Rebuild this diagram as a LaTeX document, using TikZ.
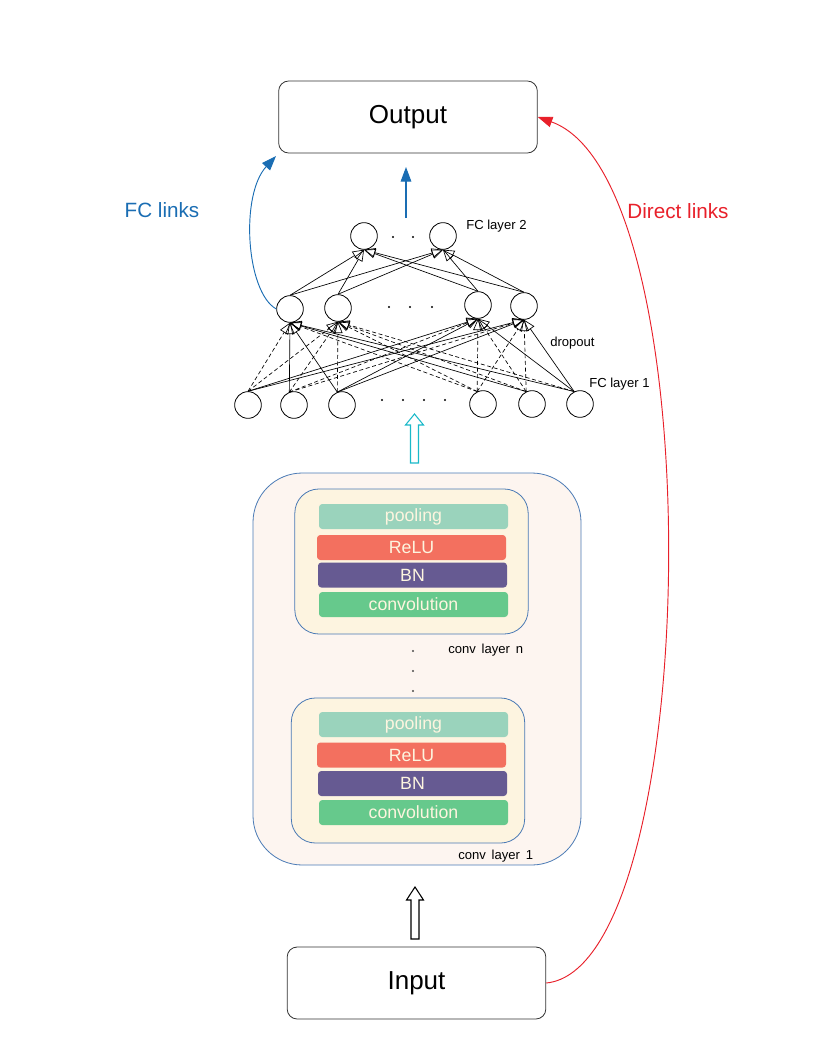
\documentclass[tikz,border=0pt]{standalone}
\usepackage{fontspec}
\setmainfont{Liberation Sans}
\usetikzlibrary{arrows.meta}
\definecolor{linkblue}{HTML}{1A6DB3}
\definecolor{linkred}{HTML}{E8202A}
\definecolor{arrcyan}{HTML}{1AB9C9}
\definecolor{convborder}{HTML}{4A7AB5}
\definecolor{convfill}{HTML}{FDF5F0}
\definecolor{layerfill}{HTML}{FDF4E0}
\definecolor{poolc}{HTML}{9AD3BC}
\definecolor{reluc}{HTML}{F3705F}
\definecolor{bnc}{HTML}{665A92}
\definecolor{convc}{HTML}{66C98C}
\definecolor{bartext}{HTML}{FDF5DF}
\begin{document}
\begin{tikzpicture}[x=0.75pt,y=-0.75pt,
  endbox/.style={draw=black!80, fill=white, rounded corners=7.5pt, minimum width=194pt, minimum height=54pt, font=\fontsize{19.5}{22}\selectfont, line width=0.6pt},
  neuron/.style={circle, draw, minimum size=20pt, inner sep=0pt, line width=0.6pt, fill=white},
  bar/.style={rounded corners=2.5pt, minimum width=141.75pt, minimum height=18.75pt, inner sep=0pt, text=bartext, font=\fontsize{13.3}{15}\selectfont},
  fcedge/.style={-{Triangle[open,length=8.5pt,width=7pt]}, line width=0.5pt},
  dedge/.style={fcedge, dash pattern=on 3pt off 2pt},
  lbl/.style={font=\fontsize{9.8}{11}\selectfont, anchor=west, inner sep=0pt},
  dotm/.style={circle, fill=black, inner sep=0pt, minimum size=1.6pt},
  layerbox/.style={draw=convborder, fill=layerfill, rounded corners=18pt, minimum width=175pt, minimum height=108.75pt, line width=0.6pt},
  hollow/.style={line width=0.8pt, fill=white}
]
\useasboundingbox (0,0) rectangle (816,1056);

% Output / Input
\node[endbox] (out) at (408,117) {Output};
\node[endbox] (in) at (416.5,983) {Input};

% conv block
\node[draw=convborder, fill=convfill, rounded corners=37pt, minimum width=246pt, minimum height=294pt, line width=0.6pt] (conv) at (417,669) {};
\node[layerbox] (layn) at (411.5,561.5) {};
\node[layerbox] (lay1) at (408,770.5) {};

\node[bar, fill=poolc] (pooln) at (413.5,516.5) {pooling};
\node[bar, fill=reluc] (relun) at (411.5,547.5) {ReLU};
\node[bar, fill=bnc] (bnn) at (412.5,575) {BN};
\node[bar, fill=convc] (convn) at (413.5,604.5) {convolution};

\node[bar, fill=poolc] (pool1) at (413.5,724.5) {pooling};
\node[bar, fill=reluc] (relu1) at (411.5,755) {ReLU};
\node[bar, fill=bnc] (bn1) at (412.5,783.5) {BN};
\node[bar, fill=convc] (conv1) at (413.5,812.5) {convolution};

\node[dotm, fill=black!70] (cd1) at (413,651) {};
\node[dotm, fill=black!70] (cd2) at (413,671) {};
\node[dotm, fill=black!70] (cd3) at (413,691) {};
\node[lbl] (lbln) at (448,650) {conv\, layer\, n};
\node[lbl] (lbl1) at (458,856) {conv\, layer\, 1};

% neurons
\node[neuron] (T1) at (364,236) {};
\node[neuron] (T2) at (443,236) {};
\node[neuron] (M1) at (290,309) {};
\node[neuron] (M2) at (338,308) {};
\node[neuron] (M3) at (478,305) {};
\node[neuron] (M4) at (524,306) {};
\node[neuron] (B1) at (248,405) {};
\node[neuron] (B2) at (294,405) {};
\node[neuron] (B3) at (342,405) {};
\node[neuron] (B5) at (483,404) {};
\node[neuron] (B6) at (532,404) {};
\node[neuron] (B7) at (580,404) {};

% dots
\node[dotm] (td1) at (393,237) {};
\node[dotm] (td2) at (413,237) {};
\node[dotm] (md1) at (389,307) {};
\node[dotm] (md2) at (410,307) {};
\node[dotm] (md3) at (432,307) {};
\node[dotm] (bd1) at (382,400) {};
\node[dotm] (bd2) at (403,400) {};
\node[dotm] (bd3) at (424,400) {};
\node[dotm] (bd4) at (445,400) {};

% FC layer 2 edges
\foreach \m in {M1,M2,M3,M4}
  \foreach \t in {T1,T2}
    \draw[fcedge] (\m.north) -- (\t.south);

% FC layer 1 edges: solid
\draw[fcedge] (B1.north) -- (M3.south);
\draw[fcedge] (B1.north) -- (M4.south);
\draw[fcedge] (B2.110) -- (M1.south);
\draw[fcedge] (B3.110) -- (M1.south);
\draw[fcedge] (B3.110) -- (M3.south);
\draw[fcedge] (B3.110) -- (M4.south);
\draw[fcedge] (B6.115) -- (M1.south);
\draw[fcedge] (B7.115) -- (M1.south);
\draw[fcedge] (B7.115) -- (M3.south);
\draw[fcedge] (B7.115) -- (M4.south);
% dashed
\draw[dedge] (B1.north) -- (M1.south);
\draw[dedge] (B1.north) -- (M2.south);
\draw[dedge] (B2.110) -- (M2.south);
\draw[dedge] (B2.110) -- (M3.south);
\draw[dedge] (B2.110) -- (M4.south);
\draw[dedge] (B3.110) -- (M2.south);
\draw[dedge] (B5.115) -- (M1.south);
\draw[dedge] (B5.115) -- (M2.south);
\draw[dedge] (B5.115) -- (M3.south);
\draw[dedge] (B5.115) -- (M4.south);
\draw[dedge] (B6.115) -- (M2.south);
\draw[dedge] (B6.115) -- (M3.south);
\draw[dedge] (B6.115) -- (M4.south);
\draw[dedge] (B7.115) -- (M2.south);

% labels
\node[lbl] (lfc2) at (466,226) {FC layer 2};
\node[lbl] (ldrop) at (550,343) {dropout};
\node[lbl] (lfc1) at (589,384) {FC layer 1};

% blue arrow FC -> Output
\coordinate (fcup) at (406,218);
\coordinate (fctip) at (406,167);
\draw[linkblue, line width=0.8pt, -{Triangle[length=11pt,width=8pt]}] (fcup) -- (fctip);

% FC links curve
\coordinate (fclinktip) at (276,156);
\draw[linkblue, line width=0.7pt, -{Triangle[length=11pt,width=8pt]}] (M1.west) .. controls (246,292) and (240,195) .. (fclinktip);
\node[text=linkblue, font=\fontsize{15.5}{18}\selectfont] (lfclinks) at (162,210) {FC links};

% Direct links curve
\draw[linkred, line width=0.7pt, -{Triangle[length=11pt,width=8pt]}] (in.east) .. controls (702,968) and (715,180) .. (out.east);
\node[text=linkred, font=\fontsize{15.5}{18}\selectfont] (ldirect) at (678,211) {Direct links};

% hollow arrows
\draw[hollow, draw=arrcyan] (410.5,463) -- (410.5,425) -- (405.5,425) -- (414.5,414) -- (423.5,425) -- (418.5,425) -- (418.5,463) -- cycle;
\draw[hollow, draw=black] (411,939) -- (411,900) -- (406.5,900) -- (415,887) -- (423.5,900) -- (419,900) -- (419,939) -- cycle;
\end{tikzpicture}
\end{document}
